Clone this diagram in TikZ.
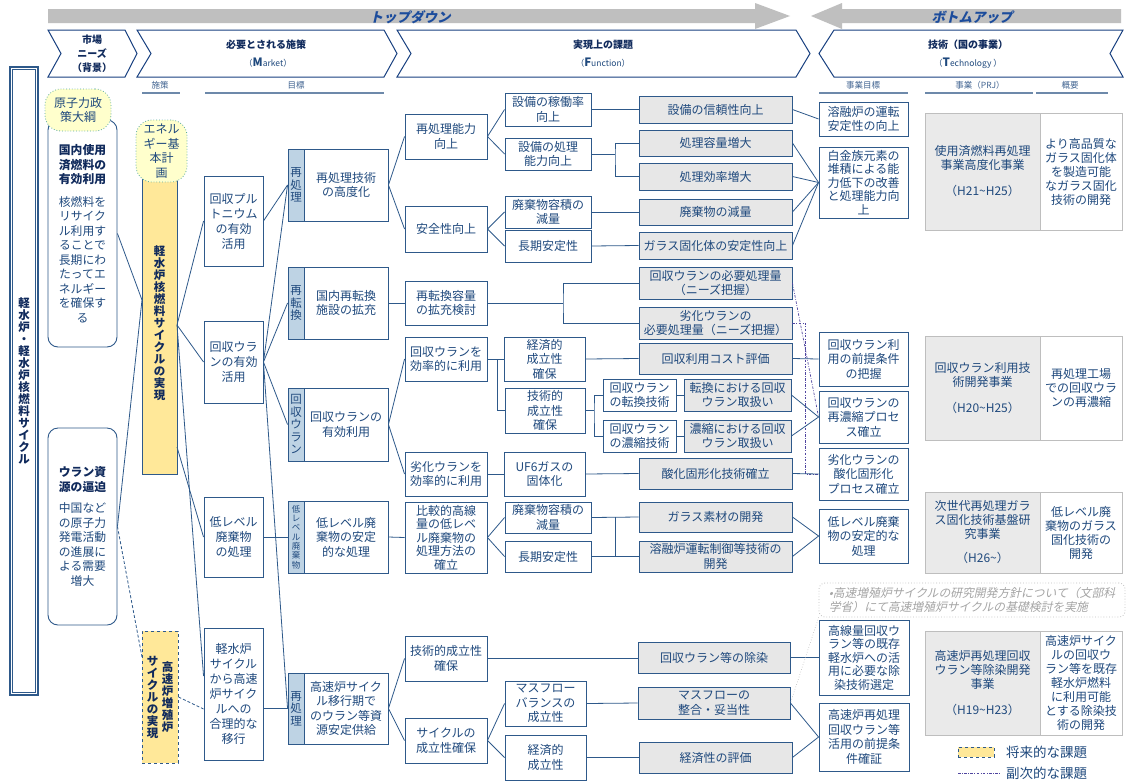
\documentclass[tikz,border=0pt]{standalone}
\usepackage{fontspec}
\setmainfont{Noto Sans CJK JP}
\newfontfamily\slantjp[FakeSlant=0.22]{Noto Sans CJK JP}
\usetikzlibrary{calc}

\definecolor{txtblue}{RGB}{31,73,125}
\definecolor{navy}{RGB}{16,42,92}
\definecolor{boxline}{RGB}{46,89,138}
\definecolor{chevline}{RGB}{24,64,128}
\definecolor{greyfill}{RGB}{231,231,231}
\definecolor{tagfill}{RGB}{190,211,228}
\definecolor{barfill}{RGB}{255,232,153}
\definecolor{noteyellow}{RGB}{255,255,204}
\definecolor{dotteal}{RGB}{90,170,160}
\definecolor{prjfill}{RGB}{234,234,234}
\definecolor{prjline}{RGB}{190,190,190}
\definecolor{arrowgrey}{RGB}{191,191,191}
\definecolor{subpurple}{RGB}{80,70,160}
\definecolor{notegrey}{RGB}{165,165,165}
\definecolor{arrowtxt}{RGB}{28,76,156}

\newcommand{\needtitle}[1]{\textcolor{navy}{\textbf{#1}}}

\tikzset{
  sz/.style 2 args={minimum width=#1pt, minimum height=#2pt},
  box/.style={draw=boxline, line width=0.9pt, fill=white, text=txtblue, align=center, inner sep=1pt, font=\fontsize{12}{14.5}\selectfont},
  abox/.style={box, font=\fontsize{12}{15}\selectfont},
  tight/.style={font=\fontsize{12}{13.5}\selectfont},
  gbox/.style={box, fill=greyfill},
  tag/.style={box, fill=tagfill, inner sep=0pt, font=\fontsize{11.5}{12.5}\selectfont},
  prj/.style={draw=prjline, line width=0.8pt, fill=prjfill, text=txtblue, align=center, inner sep=1pt, font=\fontsize{12}{14}\selectfont},
  prjsum/.style={prj, fill=white},
  link/.style={draw=boxline, line width=0.8pt},
  subline/.style={draw=subpurple, line width=0.7pt, dash pattern=on 2.5pt off 1.5pt on 0.7pt off 1.5pt},
  chev/.style={draw=chevline, line width=1pt, fill=white},
  head/.style={text=navy, align=center, inner sep=0pt, font=\bfseries\fontsize{10}{14}\selectfont},
  headsub/.style={text=txtblue, inner sep=0pt, font=\fontsize{8.5}{10}\selectfont},
  subhead/.style={text=txtblue!85!white, inner sep=0pt, font=\fontsize{8.5}{10}\selectfont},
  uline/.style={draw=txtblue!65!white, line width=1.3pt},
  arrowlabel/.style={text=arrowtxt, inner sep=0pt, font=\slantjp\bfseries\fontsize{13.5}{14}\selectfont},
  policy/.style={draw=dotteal, dotted, line width=0.8pt, fill=noteyellow, rounded corners=16pt, text=txtblue, align=center, inner sep=1pt, font=\fontsize{12}{14.5}\selectfont},
  needbox/.style={draw=boxline, line width=0.9pt, rounded corners=10pt, fill=white, text=txtblue, align=center, inner sep=1pt, font=\fontsize{11.8}{14.5}\selectfont},
  yellowbar/.style={draw=boxline, line width=0.9pt, fill=barfill, text=navy, align=center, inner sep=0pt, font=\bfseries\fontsize{11.5}{12}\selectfont},
  vtxt/.style={text=navy, align=center, inner sep=0pt, font=\bfseries\fontsize{11.5}{12}\selectfont},
  notebox/.style={draw=notegrey!70, dotted, line width=0.8pt, rounded corners=6pt, text=notegrey, align=left, inner sep=2pt, font=\slantjp\fontsize{11.8}{14}\selectfont},
  legendtxt/.style={text=txtblue, inner sep=0pt, font=\fontsize{13.5}{14}\selectfont}
}

\begin{document}
\begin{tikzpicture}[x=1pt, y=-1pt]
\fill[white] (0,0) rectangle (1126,782);
\useasboundingbox (0,0) rectangle (1126,782);

% top arrows
\fill[arrowgrey] (48,9) -- (755,9) -- (755,3) -- (790,16) -- (755,29) -- (755,23) -- (48,23) -- cycle;
\fill[arrowgrey] (1121,9) -- (842,9) -- (842,3) -- (811,16) -- (842,29) -- (842,23) -- (1121,23) -- cycle;
\node[arrowlabel] (topdown) at (410,17) {トップダウン};
\node[arrowlabel] (bottomup) at (972,17) {ボトムアップ};

% header chevrons
\draw[chev] (48,30) -- (125,30) -- (137,53.5) -- (125,77) -- (48,77) -- (61,53.5) -- cycle;
\draw[chev] (137,30) -- (384,30) -- (397,53.5) -- (384,77) -- (137,77) -- (151,53.5) -- cycle;
\draw[chev] (397,30) -- (796,30) -- (810,53.5) -- (796,77) -- (397,77) -- (411,53.5) -- cycle;
\draw[chev] (834,30) -- (1123,30) -- (1110,53.5) -- (1123,77) -- (834,77) -- (819,53.5) -- cycle;
\node[head] (hneeds) at (92,54) {市場\\ニーズ\\（背景）};
\node[head] (hmkt) at (266,45) {必要とされる施策};
\node[headsub] (hmkten) at (268,63) {（{\bfseries\fontsize{11.5}{12}\selectfont M}arket）};
\node[head] (hfunc) at (603,45) {実現上の課題};
\node[headsub] (hfuncen) at (603,63) {（{\bfseries\fontsize{11.5}{12}\selectfont F}unction）};
\node[head] (htech) at (968,45) {技術（国の事業）};
\node[headsub] (htechen) at (968,63) {（{\bfseries\fontsize{11.5}{12}\selectfont T}echnology ）};

% column heads
\node[subhead] (shpol) at (160,85) {施策};
\node[subhead] (shgoal) at (296,85) {目標};
\node[subhead] (shtgt) at (863,85) {事業目標};
\node[subhead] (shprj) at (980,85) {事業（PRJ）};
\node[subhead] (shsum) at (1070,85) {概要};
\draw[uline] (142,93) -- (180,93);
\draw[uline] (205,93) -- (384,93);
\draw[uline] (819,93) -- (908,93);
\draw[uline] (925,93) -- (1033,93);
\draw[uline] (1036,93) -- (1108,93);

% left side
\node[draw=boxline, line width=2.2pt, fill=white, sz={28}{628}, vtxt] (lwr) at (24,381)
  {軽\\水\\炉\\・\\軽\\水\\炉\\核\\燃\\料\\サ\\イ\\ク\\ル};
\draw[boxline, line width=0.6pt] ($(lwr.north west)+(3.5,3.5)$) rectangle ($(lwr.south east)+(-3.5,-3.5)$);

\node[needbox, sz={69}{227}] (kokunai) at (82.5,233.5)
  {\needtitle{国内使用}\\\needtitle{済燃料の}\\\needtitle{有効利用}\\[8pt]核燃料を\\リサイク\\ル利用す\\ることで\\長期にわ\\たってエ\\ネルギー\\を確保す\\る};
\node[policy, sz={66}{42}] (taiko) at (78,110) {原子力政\\策大綱};
\node[needbox, sz={69}{197}] (uran) at (82.5,526.5)
  {\needtitle{ウラン資}\\\needtitle{源の逼迫}\\[7pt]中国など\\の原子力\\発電活動\\の進展に\\よる需要\\増大};

\node[yellowbar, sz={35}{302}] (lwrbar) at (159.5,323)
  {軽\\水\\炉\\核\\燃\\料\\サ\\イ\\ク\\ル\\の\\実\\現};
\node[policy, sz={51}{62}] (enekei) at (161.5,151) {エネル\\ギー基\\本計\\画};
\node[yellowbar, dashed, sz={36}{132}] (fbrbar) at (160,697) {};
\node[vtxt] (fbrcolr) at (167.5,697) {高\\速\\炉\\増\\殖\\炉};
\node[vtxt] (fbrcoll) at (152.5,697) {サ\\イ\\ク\\ル\\の\\実\\現};

% goals
\node[abox, sz={59}{90}] (pu) at (233.5,221) {回収プル\\トニウム\\の有効\\活用};
\node[abox, sz={59}{82}] (ru) at (233.5,362) {回収ウラ\\ンの有効\\活用};
\node[abox, sz={59}{80}] (llw) at (233.5,537) {低レベル\\廃棄物\\の処理};
\node[abox, sz={59}{132}] (fbr) at (233.5,694) {軽水炉\\サイクル\\から高速\\炉サイク\\ルへの\\合理的な\\移行};

\node[tag, sz={16}{72}] (t1) at (296,185) {再\\処\\理};
\node[tag, sz={16}{72}] (t2) at (296,303) {再\\転\\換};
\node[tag, sz={16}{73}] (t3) at (296,424.5) {回\\収\\ウ\\ラ\\ン};
\node[tag, sz={16}{72}, font=\fontsize{8.5}{9.3}\selectfont] (t4) at (296,537) {低\\レ\\ベ\\ル\\廃\\棄\\物};
\node[tag, sz={16}{71}] (t5) at (296,708.5) {再\\処\\理};
\node[box, sz={84}{72}] (b1) at (346,185) {再処理技術\\の高度化};
\node[box, sz={84}{72}] (b2) at (346,303) {国内再転換\\施設の拡充};
\node[box, sz={84}{73}] (b3) at (346,424.5) {回収ウランの\\有効利用};
\node[box, sz={84}{72}] (b4) at (346,537) {低レベル廃\\棄物の安定\\的な処理};
\node[box, sz={84}{71}] (b5) at (346,708.5) {高速炉サイク\\ル移行期で\\のウラン等資\\源安定供給};

% issues
\node[box, sz={82}{45}] (c1) at (446,136.5) {再処理能力\\向上};
\node[box, sz={82}{46}] (c2) at (446,229) {安全性向上};
\node[box, sz={82}{44}] (c3) at (446,303) {再転換容量\\の拡充検討};
\node[box, sz={82}{44}] (c4) at (446,359) {回収ウランを\\効率的に利用};
\node[box, sz={82}{44}] (c5) at (446,474) {劣化ウランを\\効率的に利用};
\node[box, tight, sz={82}{71}] (c6) at (446,537.5) {比較的高線\\量の低レベ\\ル廃棄物の\\処理方法の\\確立};
\node[box, sz={82}{45}] (c7) at (446,658.5) {技術的成立性\\確保};
\node[box, sz={82}{45}] (c8) at (446,740.5) {サイクルの\\成立性確保};

\node[box, sz={86}{33}] (d1) at (548,109.5) {設備の稼働率\\向上};
\node[box, sz={86}{32}] (d2) at (548,154) {設備の処理\\能力向上};
\node[box, sz={86}{32}] (d3) at (548,212) {廃棄物容積の\\減量};
\node[box, sz={86}{32}] (d4) at (548,246) {長期安定性};
\node[box, sz={81}{44}] (d5) at (544.5,359) {経済的\\成立性\\確保};
\node[box, sz={80}{45}] (d6) at (545,410.5) {技術的\\成立性\\確保};
\node[box, sz={81}{44}] (d7) at (544.5,474) {UF6ガスの\\固体化};
\node[box, sz={86}{31}] (d8) at (548,517.5) {廃棄物容積の\\減量};
\node[box, sz={86}{31}] (d9) at (548,556.5) {長期安定性};
\node[box, sz={81}{45}] (d10) at (545.5,703.5) {マスフロー\\バランスの\\成立性};
\node[box, sz={81}{45}] (d11) at (545.5,757.5) {経済的\\成立性};

\node[box, sz={73}{32}] (e1) at (639.5,395) {回収ウラン\\の転換技術};
\node[box, sz={73}{32}] (e2) at (639.5,436) {回収ウラン\\の濃縮技術};
\node[gbox, sz={107}{32}] (f1) at (737.5,395) {転換における回収\\ウラン取扱い};
\node[gbox, sz={107}{32}] (f2) at (737.5,436) {濃縮における回収\\ウラン取扱い};

\node[gbox, sz={153}{27}] (g1) at (715.5,109.5) {設備の信頼性向上};
\node[gbox, sz={153}{26}] (g2) at (715.5,143) {処理容量増大};
\node[gbox, sz={153}{27}] (g3) at (715.5,176.5) {処理効率増大};
\node[gbox, sz={153}{26}] (g4) at (715.5,212) {廃棄物の減量};
\node[gbox, sz={153}{27}] (g5) at (715.5,245.5) {ガラス固化体の安定性向上};
\node[gbox, sz={153}{32}] (g6) at (715.5,283) {回収ウランの必要処理量\\（ニーズ把握）};
\node[gbox, sz={153}{32}] (g7) at (715.5,323) {劣化ウランの\\必要処理量（ニーズ把握）};
\node[gbox, sz={153}{31}] (g8) at (715.5,358.5) {回収利用コスト評価};
\node[gbox, sz={153}{31}] (g9) at (715.5,473.5) {酸化固形化技術確立};
\node[gbox, sz={153}{30}] (g10) at (715.5,517) {ガラス素材の開発};
\node[gbox, sz={153}{31}] (g11) at (715.5,556.5) {溶融炉運転制御等技術の\\開発};
\node[gbox, sz={152}{31}] (g12) at (714,657.5) {回収ウラン等の除染};
\node[gbox, sz={152}{32}] (g13) at (714,703) {マスフローの\\整合・妥当性};
\node[gbox, sz={153}{31}] (g14) at (715.5,757.5) {経済性の評価};

% project targets
\node[box, sz={89}{34}] (h1) at (863.5,119) {溶融炉の運転\\安定性の向上};
\node[box, tight, sz={89}{71}] (h2) at (863.5,182.5) {白金族元素の\\堆積による能\\力低下の改善\\と処理能力向\\上};
\node[box, sz={89}{54}] (h3) at (863.5,359) {回収ウラン利\\用の前提条件\\の把握};
\node[box, sz={89}{52}] (h4) at (863.5,417) {回収ウランの\\再濃縮プロセ\\ス確立};
\node[box, sz={89}{52}] (h5) at (863.5,474) {劣化ウランの\\酸化固形化\\プロセス確立};
\node[box, sz={89}{54}] (h6) at (863.5,536) {低レベル廃棄\\物の安定的な\\処理};
\node[box, tight, sz={90}{75}] (h7) at (864,657.5) {高線量回収ウ\\ラン等の既存\\軽水炉への活\\用に必要な除\\染技術選定};
\node[box, sz={90}{68}] (h8) at (864,737) {高速炉再処理\\回収ウラン等\\活用の前提条\\件確証};

% projects
\node[prj, sz={115}{117}] (p1) at (982.5,171.5) {使用済燃料再処理\\事業高度化事業\\[12pt]（H21\textasciitilde H25）};
\node[prjsum, sz={82}{117}] (p1s) at (1081,171.5) {より高品質な\\ガラス固化体\\を製造可能\\なガラス固化\\技術の開発};
\node[prj, sz={115}{104}] (p2) at (982.5,388) {回収ウラン利用技\\術開発事業\\[12pt]（H20\textasciitilde H25）};
\node[prjsum, sz={82}{104}] (p2s) at (1081,388) {再処理工場\\での回収ウラ\\ンの再濃縮};
\node[prj, sz={115}{81}] (p3) at (982.5,532.5) {次世代再処理ガラ\\ス固化技術基盤研\\究事業\\[10pt]（H26\textasciitilde）};
\node[prjsum, sz={82}{81}] (p3s) at (1081,532.5) {低レベル廃\\棄物のガラス\\固化技術の\\開発};
\node[prj, sz={115}{104}] (p4) at (982.5,683) {高速炉再処理回収\\ウラン等除染開発\\事業\\[12pt]（H19\textasciitilde H23）};
\node[prjsum, font=\fontsize{12}{14}\selectfont, sz={82}{104}] (p4s) at (1081,683) {高速炉サイク\\ルの回収ウ\\ラン等を既存\\軽水炉燃料\\に利用可能\\とする除染技\\術の開発};

\node[notebox, sz={306}{34}] (note) at (972,600) {•高速増殖炉サイクルの研究開発方針について（文部科\\学省）にて高速増殖炉サイクルの基礎検討を実施};

% legend
\node[yellowbar, dashed, sz={36}{10}] (lgfut) at (976,752) {};
\node[legendtxt, anchor=west] (lgfuttxt) at (1006,752) {将来的な課題};
\coordinate (lgsubl) at (958,773);
\coordinate (lgsubr) at (1000,773);
\draw[subline] (lgsubl) -- (lgsubr);
\node[legendtxt, anchor=west] (lgsubtxt) at (1006,773) {副次的な課題};

% connectors, left
\coordinate (barin) at (142,300);
\coordinate (barout) at (177,325);
\coordinate (barout2) at (177,447);
\coordinate (fbrin) at (142,657);
\draw[link] (kokunai.east) -- (barin);
\draw[link] (uran.east) -- (barin);
\draw[link, densely dashed] (uran.east) -- (fbrin);
\draw[link] (barout) -- (pu.west);
\draw[link] (barout) -- (ru.west);
\draw[link] (barout) -- ($(fbr.west)+(0,-18)$);
\draw[link] (barout2) -- (llw.west);
\draw[link, densely dashed] (fbrbar.east) -- ($(fbr.west)+(0,15)$);

\draw[link] (pu.east) -- (t1.west);
\foreach \t in {t1,t2,t3,t5}
  \draw[link] (ru.east) -- (\t.west);
\draw[link] (llw.east) -- (t4.west);
\draw[link] (fbr.east |- t5.west) -- (t5.west);

\draw[link] (b1.east) -- (c1.west);
\draw[link] (b1.east) -- (c2.west);
\draw[link] (b2.east) -- (c3.west);
\draw[link] (b3.east) -- (c4.west);
\draw[link] (b3.east) -- (c5.west);
\draw[link] (b4.east) -- (c6.west);
\draw[link] (b5.east) -- (c7.west);
\draw[link] (b5.east) -- (c8.west);

% connectors, issues
\draw[link] (c1.east) -- (d1.west);
\draw[link] (c1.east) -- (d2.west);
\draw[link] (c2.east) -- (d3.west);
\draw[link] (c2.east) -- (d4.west);
\coordinate (j1) at (563,303);
\draw[link] (c3.east) -- (j1);
\draw[link] (g6.west) -| (j1) |- (g7.west);
\coordinate (j2) at (497,359);
\draw[link] (c4.east) -- (d5.west);
\draw[link] (j2) |- (d6.west);
\draw[link] (c5.east) -- (d7.west);
\draw[link] (c6.east) -- (d8.west);
\draw[link] (c6.east) -- (d9.west);
\draw[link] (c7.east) -- (g12.west |- c7.east);
\draw[link] (c8.east) -- (d10.west);
\draw[link] (c8.east) -- (d11.west);

\draw[link] (d1.east) -- (g1.west);
\coordinate (j3) at (615,154);
\draw[link] (d2.east) -- (j3);
\draw[link] (g2.west) -| (j3) |- (g3.west);
\draw[link] (d3.east) -- (g4.west);
\draw[link] (d4.east) -- (g5.west);
\draw[link] (d5.east) -- (g8.west);
\coordinate (j4) at (594,410.5);
\draw[link] (d6.east) -- (j4);
\draw[link] (e1.west) -| (j4) |- (e2.west);
\draw[link] (e1.east) -- (f1.west);
\draw[link] (e2.east) -- (f2.west);
\draw[link] (d7.east) -- (g9.west);
\draw[link] (d8.east) -- (g10.west);
\draw[link] (d9.east) -- (g11.west);
\draw[link] ($(d8.east)!.5!(g10.west)$) -- ($(d9.east)!.5!(g11.west)$);
\draw[link] (d10.east) -- (g13.west);
\draw[link] (d11.east) -- (g14.west);

% connectors, targets
\draw[link] (g1.east) -- (h1.west);
\foreach \g in {g2,g3,g4,g5}
  \draw[link] (\g.east) -- (h2.west);
\draw[subline] (g6.east) -- (h4.west);
\draw[subline] (g7.east) -- ++(13,0) |- (h5.west);
\draw[link] (g8.east) -- (h3.west);
\draw[link] (f1.east) -- (h4.west);
\draw[link] (f2.east) -- (h4.west);
\draw[link] (g9.east) -- (h5.west);
\draw[link] (g10.east) -- (h6.west);
\draw[link] (g11.east) -- (h6.west);
\draw[link] (g12.east) -- (h7.west);
\draw[link] (g13.east) -- (h8.west);
\draw[link] (g14.east) -- (h8.west);
\draw[notegrey!80, dotted, line width=0.6pt] (note.south west) -- (g13.east);
\end{tikzpicture}
\end{document}
